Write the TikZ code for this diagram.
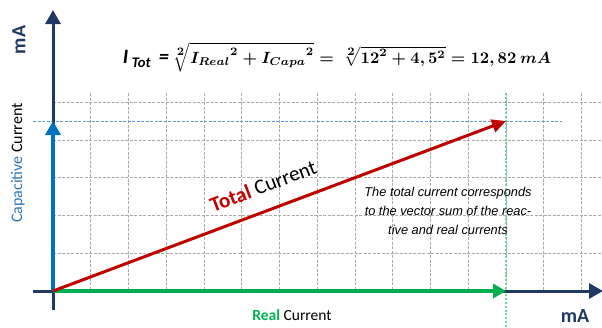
\documentclass[tikz,border=0pt]{standalone}
\usepackage{amsmath,bm}
\usepackage{fontspec}
\setmainfont{Carlito}
\newfontfamily\arialfont{Liberation Sans}
\usetikzlibrary{arrows.meta}
\definecolor{navy}{HTML}{203864}
\definecolor{capblue}{HTML}{0070C0}
\definecolor{capbluetext}{HTML}{2E75B6}
\definecolor{realgreen}{HTML}{00B050}
\definecolor{totred}{HTML}{C00000}
\definecolor{gridgray}{HTML}{ABABAB}
\definecolor{guidegreen}{HTML}{6FD39A}
\definecolor{guideblue}{HTML}{5B9BD5}
\tikzset{
  gridline/.style={draw=gridgray, line width=0.9pt, dash pattern=on 3pt off 1.5pt},
  axisline/.style={draw=navy, line width=3pt, -{Triangle[length=14pt,width=15pt]}},
  vecline/.style={line width=3.5pt},
  lbl/.style={inner sep=0pt},
}
\begin{document}
\begin{tikzpicture}[x=1pt,y=-1pt]
\useasboundingbox (0,0) rectangle (602,327);
\clip (0,0) rectangle (602,327);
% grid
\foreach \k in {1,...,14} \draw[gridline] ({53+37.75*\k},93) -- ({53+37.75*\k},291);
\foreach \k in {1,...,5} \draw[gridline] (53,{291-37.75*\k}) -- (602,{291-37.75*\k});
% coordinates
\coordinate (O) at (53,291);
\coordinate (Ybot) at (53,310);
\coordinate (Ytop) at (53,10);
\coordinate (Xleft) at (33,291);
\coordinate (Xright) at (603,291);
\coordinate (R) at (506,291);
\coordinate (C) at (53,121);
\coordinate (T) at (506,121);
\coordinate (Gtop) at (506,93);
\coordinate (Gbot) at (506,327);
\coordinate (Bl) at (33,121);
\coordinate (Br) at (562,121);
% guides
\draw[guidegreen, line width=1.5pt, dash pattern=on 2pt off 1.8pt] (Gtop) -- (Gbot);
\draw[guideblue, line width=1pt, dash pattern=on 3pt off 1.5pt] (Bl) -- (Br);
% axes
\draw[axisline] (Ybot) -- (Ytop);
\draw[axisline] (Xleft) -- (Xright);
% vectors
\draw[vecline, capblue, -{Triangle[length=14pt,width=15pt]}] (O) -- (C);
\draw[vecline, realgreen, -{Triangle[length=13pt,width=14pt]}] (O) -- (R);
\draw[line width=3pt, totred, -{Triangle[length=14pt,width=13pt]}] (O) -- (T);
% labels
\node[lbl, rotate=90, text=navy, font=\fontsize{20}{20}\selectfont\bfseries] (mAy) at (19,40) {mA};
\node[lbl, text=navy, font=\fontsize{20}{20}\selectfont\bfseries] (mAx) at (575,316) {mA};
\node[lbl, rotate=90, font=\fontsize{16}{16}\selectfont] (cap) at (18,163) {\textcolor{capbluetext}{Capacitive} Current};
\node[lbl, font=\fontsize{15.5}{16}\selectfont] (real) at (292,315) {\textcolor{realgreen}{\bfseries Real} Current};
\node[lbl, rotate=21, font=\fontsize{21}{21}\selectfont] (tot) at (263,186) {\textcolor{totred}{\bfseries Total} Current};
\node[lbl, align=center, font=\arialfont\itshape\fontsize{12.8}{18.7}\selectfont] (note) at (448,211)
  {The total current corresponds\\to the vector sum of the reac-\\tive and real currents};
\node[lbl, anchor=base] (formula) at (337,63) {\resizebox{428pt}{!}{%
  {\bfseries\itshape\fontsize{12.5}{12}\selectfont I\,\raisebox{-0.45ex}{\fontsize{9}{9}\selectfont Tot}\, =}\,%
  {\boldmath$\sqrt[\scriptstyle 2]{{I_{Real}}^{2}+{I_{Capa}}^{2}}=\,\sqrt[\scriptstyle 2]{\mathbf{12}^{\mathbf{2}}+\mathbf{4},\mathbf{5}^{\mathbf{2}}}=\mathbf{12},\mathbf{82}\ mA$}}};
\end{tikzpicture}
\end{document}
